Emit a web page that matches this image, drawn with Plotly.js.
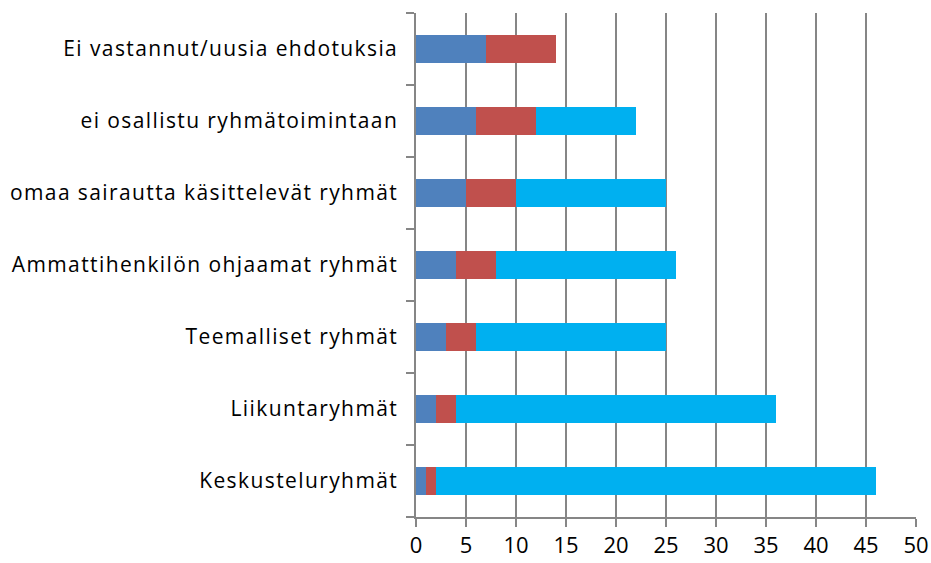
<!DOCTYPE html>
<html>
<head>
<meta charset="utf-8">
<script src="https://cdn.plot.ly/plotly-3.0.1.min.js"></script>
<style>
html,body{margin:0;padding:0;background:#fff;}
#chart{width:931px;height:563px;}
#chart .ytick text{letter-spacing:1.4px;}
</style>
</head>
<body>
<div id="chart"></div>
<script>
const categories = [
  "Keskusteluryhmät",
  "Liikuntaryhmät",
  "Teemalliset ryhmät",
  "Ammattihenkilön ohjaamat ryhmät",
  "omaa sairautta käsittelevät ryhmät",
  "ei osallistu ryhmätoimintaan",
  "Ei vastannut/uusia ehdotuksia"
];
const series1 = [1, 2, 3, 4, 5, 6, 7];
const series2 = [1, 2, 3, 4, 5, 6, 7];
const series3 = [44, 32, 19, 18, 15, 10, 0];
const xTicks = [0, 5, 10, 15, 20, 25, 30, 35, 40, 45, 50];

const font = {family: "Open Sans, Noto Sans, sans-serif", size: 21, color: "#000"};
const traces = [
  {type: "bar", orientation: "h", y: categories, x: series1, marker: {color: "#4F81BD"}, name: "1"},
  {type: "bar", orientation: "h", y: categories, x: series2, marker: {color: "#C0504D"}, name: "2"},
  {type: "bar", orientation: "h", y: categories, x: series3, marker: {color: "#00B0F0"}, name: "3"}
];
const layout = {
  width: 931, height: 563,
  margin: {l: 416, r: 15, t: 13, b: 46},
  barmode: "stack",
  bargap: 0.6,
  showlegend: false,
  paper_bgcolor: "#fff", plot_bgcolor: "#fff",
  font: font,
  xaxis: {
    range: [0, 50], tickvals: xTicks, ticktext: xTicks.map(String),
    showgrid: true, gridcolor: "#868686", gridwidth: 1.6,
    showline: true, linecolor: "#868686", linewidth: 1.6,
    ticks: "outside", ticklen: 8, tickcolor: "#868686", tickwidth: 1.6,
    zeroline: false, fixedrange: true,
    tickfont: {family: "Open Sans, Noto Sans, sans-serif", size: 22, color: "#000"}
  },
  yaxis: {
    type: "category", tickson: "boundaries",
    showline: true, linecolor: "#868686", linewidth: 1.6,
    ticks: "outside", ticklen: 8, tickcolor: "#868686", tickwidth: 1.6,
    showgrid: false, zeroline: false, fixedrange: true,
    ticklabelstandoff: 12,
    tickfont: font
  }
};
Plotly.newPlot("chart", traces, layout, {displayModeBar: false, staticPlot: true});
</script>
</body>
</html>
